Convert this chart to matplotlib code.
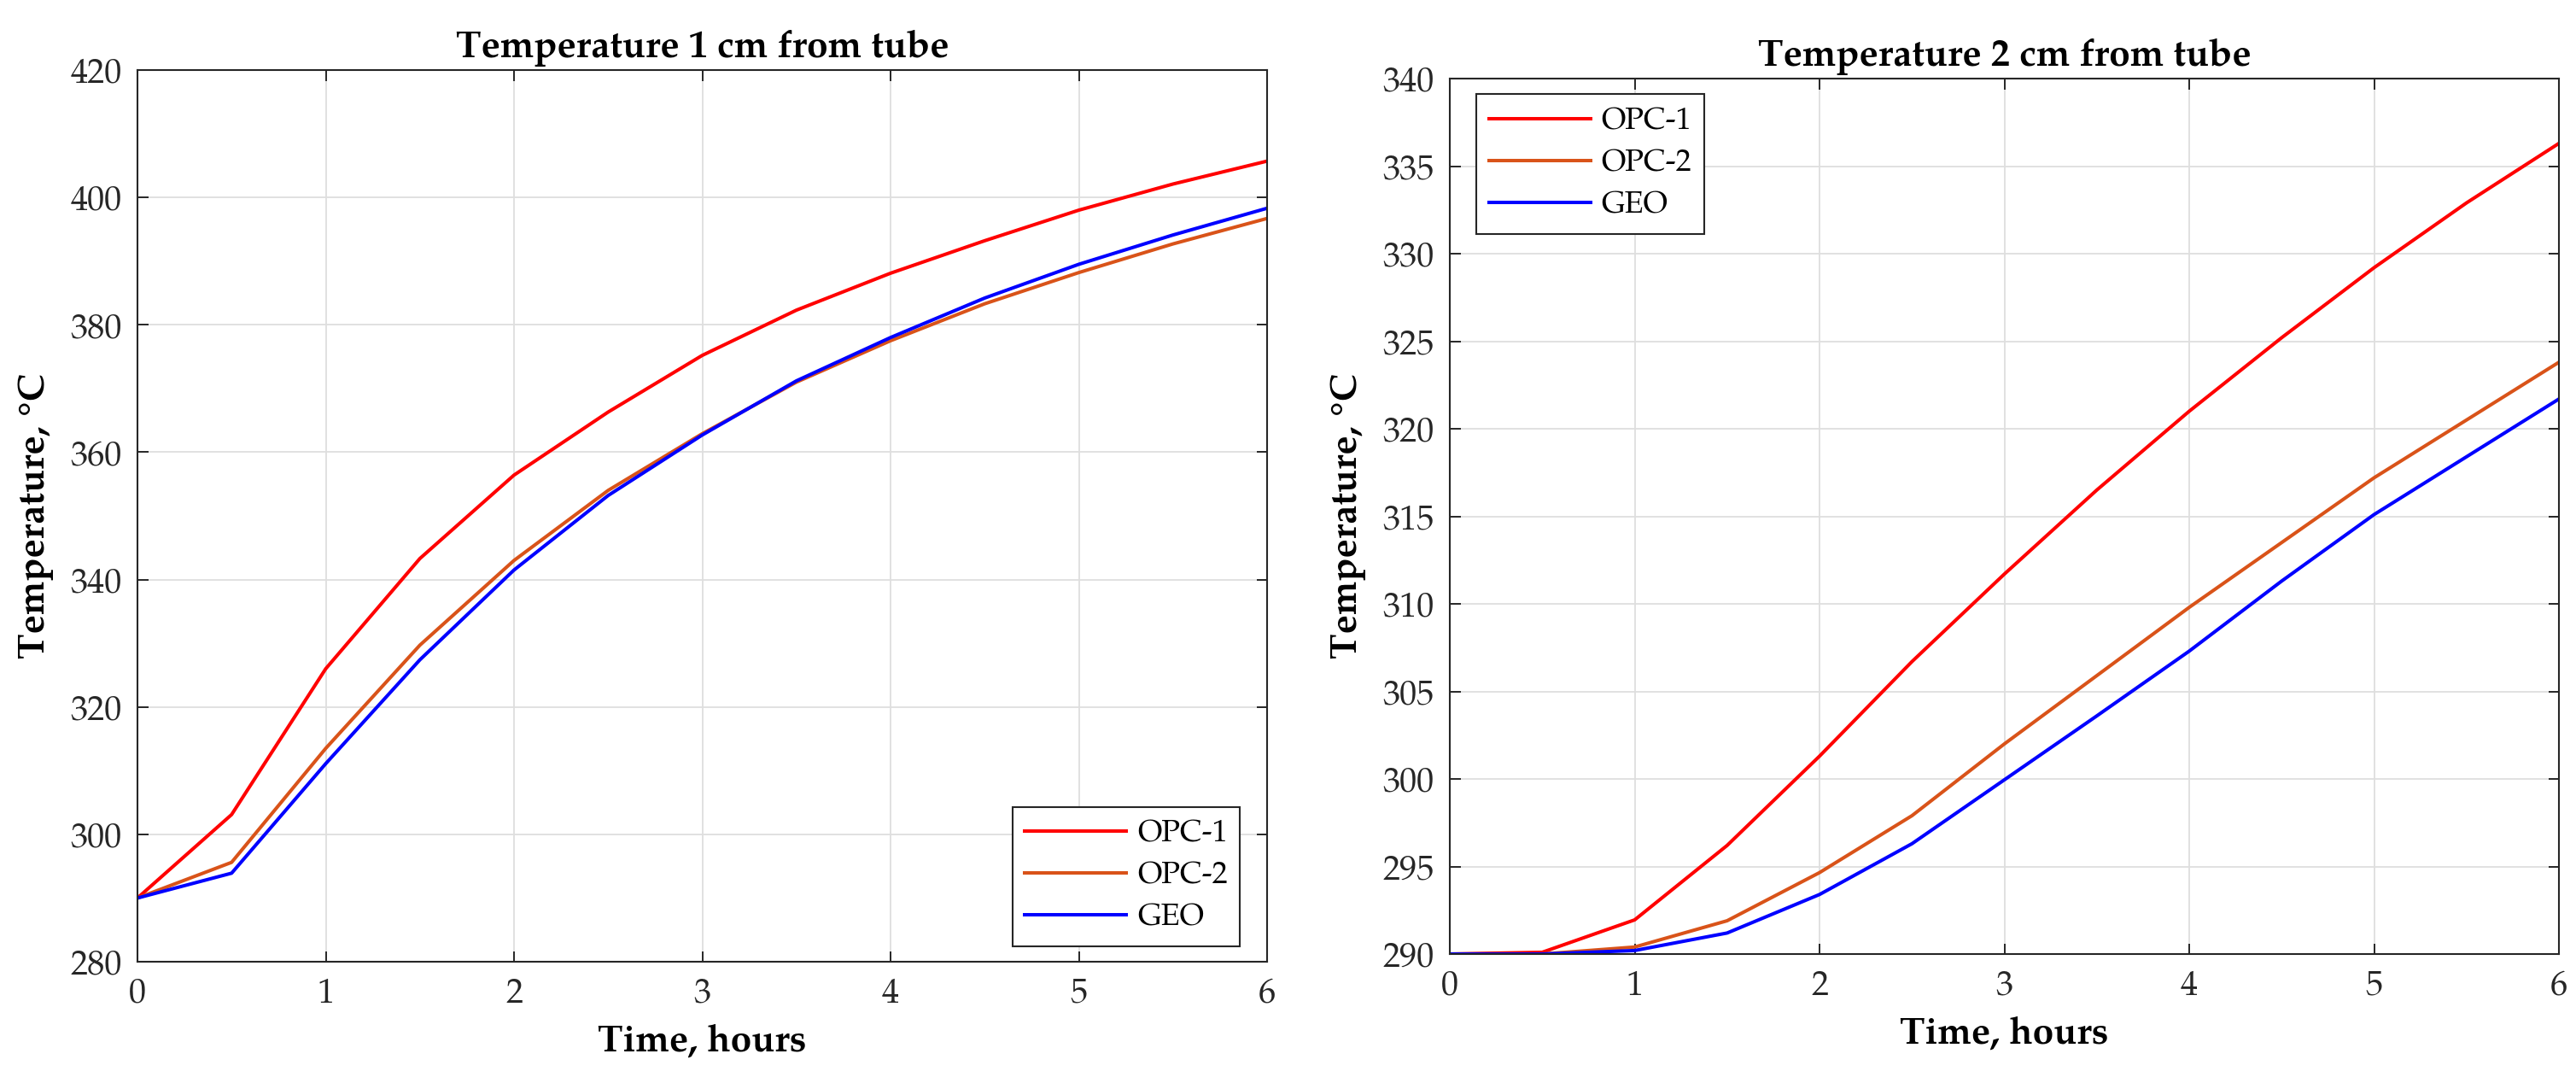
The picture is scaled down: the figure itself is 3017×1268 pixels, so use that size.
import numpy as np
import matplotlib.pyplot as plt

plt.rcParams['font.family'] = ['P052', 'TeX Gyre Pagella', 'Liberation Serif', 'DejaVu Serif']

# time, hours
hours = [0, 0.5, 1, 1.5, 2, 2.5, 3, 3.5, 4, 4.5, 5, 5.5, 6]

# 1 cm from tube
opc1_1cm = [290, 303.1, 326.0, 343.3, 356.4, 366.3, 375.2, 382.3, 388.1, 393.2, 398.0, 402.1, 405.7]
opc2_1cm = [290, 295.6, 313.5, 329.7, 343.0, 354.0, 362.9, 371.0, 377.5, 383.3, 388.2, 392.7, 396.7]
geo_1cm = [290, 293.9, 311.1, 327.4, 341.5, 353.2, 362.7, 371.2, 378.0, 384.2, 389.5, 394.1, 398.3]

# 2 cm from tube
opc1_2cm = [290, 290.1, 291.95, 296.2, 301.3, 306.7, 311.7, 316.5, 321.0, 325.2, 329.2, 332.9, 336.3]
opc2_2cm = [290, 290.0, 290.4, 291.9, 294.65, 297.9, 302.0, 305.9, 309.8, 313.5, 317.2, 320.5, 323.8]
geo_2cm = [290, 290.0, 290.2, 291.2, 293.4, 296.3, 299.95, 303.6, 307.3, 311.3, 315.1, 318.4, 321.7]

series = ['OPC-1', 'OPC-2', 'GEO']
colors = ['#FF0000', '#D95319', '#0000FF']

W, H = 3017, 1268
fig = plt.figure(figsize=(W / 100, H / 100), dpi=100)

ax1 = fig.add_axes([161 / W, 1 - 1126 / H, (1484 - 161) / W, (1126 - 82) / H])
ax2 = fig.add_axes([1698 / W, 1 - 1117 / H, (2997 - 1698) / W, (1117 - 92) / H])

panels = [
    (ax1, [opc1_1cm, opc2_1cm, geo_1cm], 'Temperature 1 cm from tube', (280, 420),
     np.arange(280, 421, 20), 'lower right', (0.976, 0.017)),
    (ax2, [opc1_2cm, opc2_2cm, geo_2cm], 'Temperature 2 cm from tube', (290, 340),
     np.arange(290, 341, 5), 'upper left', (0.024, 0.982)),
]

for ax, data, title, ylim, yticks, loc, anchor in panels:
    for vals, name, c in zip(data, series, colors):
        ax.plot(hours, vals, color=c, lw=2.9, label=name)
    ax.set_xlim(0, 6)
    ax.set_ylim(*ylim)
    ax.set_xticks(range(0, 7))
    ax.set_yticks(yticks)
    ax.grid(True, color='#DEDEDE', lw=1.3)
    ax.set_axisbelow(True)
    ax.tick_params(direction='in', length=9, width=1.4, top=True, right=True,
                   labelsize=29, colors='#262626', pad=13)
    for s in ax.spines.values():
        s.set_color('#262626')
        s.set_linewidth(1.5)
    ax.set_title(title, fontsize=32, fontweight='bold', pad=11)
    ax.set_xlabel('Time, hours', fontsize=32, fontweight='bold', labelpad=10)
    ax.set_ylabel('Temperature, °C', fontsize=32, fontweight='bold', labelpad=14)
    leg = ax.legend(loc=loc, bbox_to_anchor=anchor, borderaxespad=0, fontsize=26,
                    frameon=True, fancybox=False, edgecolor='#262626', framealpha=1,
                    handlelength=3.3, handletextpad=0.35, labelspacing=0.35, borderpad=0.4)
    leg.get_frame().set_linewidth(1.5)

fig.savefig('out.png', dpi=100)
